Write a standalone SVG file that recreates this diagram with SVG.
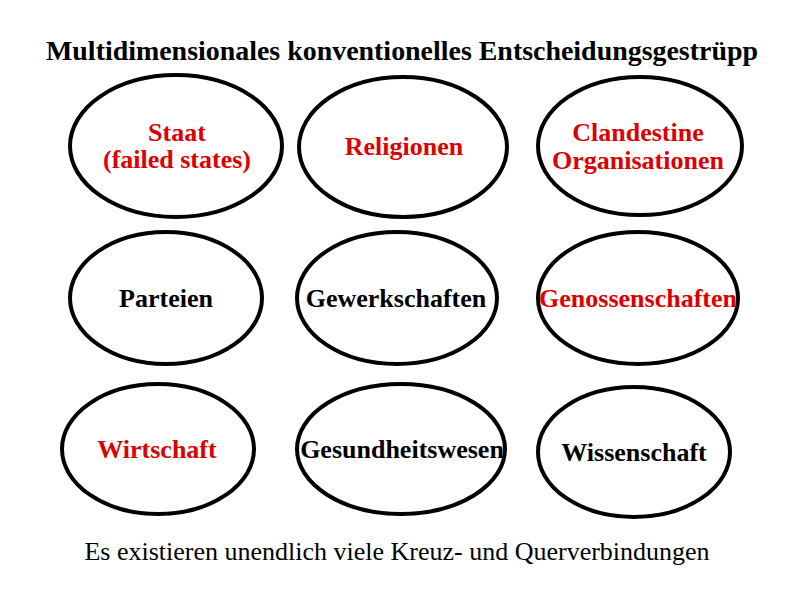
<svg xmlns="http://www.w3.org/2000/svg" width="794" height="595" viewBox="0 0 794 595">
<style>
.bg{fill:#ffffff}
.node ellipse{fill:#ffffff;stroke:#000000;stroke-width:4}
.lbl{font-family:"Liberation Serif","Times New Roman",serif;font-weight:bold;font-size:26px;text-anchor:middle}
.red{fill:#dd0000}
.blk{fill:#000000}
.title{font-family:"Liberation Serif","Times New Roman",serif;font-weight:bold;font-size:27px;text-anchor:middle;fill:#000}
.foot{font-family:"Liberation Serif","Times New Roman",serif;font-size:26px;text-anchor:middle;fill:#000}
</style>
<rect class="bg" x="0" y="0" width="794" height="595"/>
<text class="title" x="402" y="60" textLength="712" lengthAdjust="spacingAndGlyphs">Multidimensionales konventionelles Entscheidungsgestrüpp</text>
<g id="connectors"></g>
<g id="staat" class="node">
<ellipse cx="176" cy="146" rx="106" ry="71"/>
<text class="lbl red" x="177" y="141">Staat</text>
<text class="lbl red" x="177" y="168">(failed states)</text>
</g>
<g id="religionen" class="node">
<ellipse cx="403" cy="147" rx="104" ry="70"/>
<text class="lbl red" x="404" y="155">Religionen</text>
</g>
<g id="clandestine" class="node">
<ellipse cx="640" cy="146" rx="102" ry="69"/>
<text class="lbl red" x="638" y="141">Clandestine</text>
<text class="lbl red" x="638" y="169">Organisationen</text>
</g>
<g id="parteien" class="node">
<ellipse cx="166" cy="298" rx="96" ry="66"/>
<text class="lbl blk" x="166" y="307">Parteien</text>
</g>
<g id="gewerkschaften" class="node">
<ellipse cx="397" cy="298" rx="100" ry="66"/>
<text class="lbl blk" x="396" y="307">Gewerkschaften</text>
</g>
<g id="genossenschaften" class="node">
<ellipse cx="638" cy="298" rx="100" ry="66"/>
<text class="lbl red" x="638" y="307">Genossenschaften</text>
</g>
<g id="wirtschaft" class="node">
<ellipse cx="158" cy="449" rx="96" ry="65"/>
<text class="lbl red" x="157" y="458">Wirtschaft</text>
</g>
<g id="gesundheitswesen" class="node">
<ellipse cx="401" cy="449" rx="104" ry="65"/>
<text class="lbl blk" x="402" y="458">Gesundheitswesen</text>
</g>
<g id="wissenschaft" class="node">
<ellipse cx="634" cy="452" rx="96" ry="65"/>
<text class="lbl blk" x="634" y="461">Wissenschaft</text>
</g>
<text class="foot" x="397" y="560">Es existieren unendlich viele Kreuz- und Querverbindungen</text>
</svg>
